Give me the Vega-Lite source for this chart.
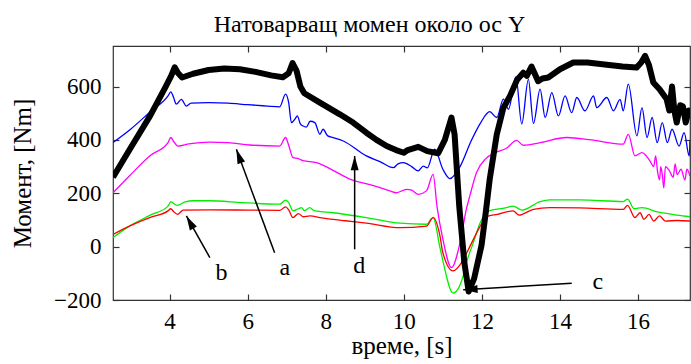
{
  "$schema": "https://vega.github.io/schema/vega-lite/v6.json",
  "autosize": {"type": "none"},
  "width": 577,
  "height": 254,
  "padding": {"left": 113, "top": 46, "right": 1, "bottom": 64},
  "background": "white",
  "title": {"text": "Натоварващ момен около ос Y", "font": "Liberation Serif", "fontSize": 24, "fontWeight": "normal", "color": "black", "anchor": "middle", "offset": 8, "dx": -32},
  "config": {
    "view": {"stroke": "#333", "strokeWidth": 1.2},
    "axis": {"labelFont": "Liberation Serif", "labelFontSize": 23, "labelColor": "black", "titleFont": "Liberation Serif", "titleFontSize": 25, "titleFontWeight": "normal", "titleColor": "black", "domain": false, "grid": false, "tickColor": "#333", "tickSize": -6, "tickWidth": 1.2},
    "text": {"font": "Liberation Serif"}
  },
  "datasets": {
    "curves": [
      {"series":"black","t":2.55,"m":260},{"series":"black","t":3.0,"m":370},{"series":"black","t":3.5,"m":490},{"series":"black","t":3.9,"m":600},{"series":"black","t":4.04,"m":640},{"series":"black","t":4.13,"m":672},{"series":"black","t":4.22,"m":650},{"series":"black","t":4.32,"m":634},{"series":"black","t":4.6,"m":648},{"series":"black","t":5.0,"m":662},{"series":"black","t":5.4,"m":668},{"series":"black","t":5.8,"m":665},{"series":"black","t":6.2,"m":655},{"series":"black","t":6.6,"m":642},{"series":"black","t":6.9,"m":635},{"series":"black","t":7.05,"m":650},{"series":"black","t":7.15,"m":688},{"series":"black","t":7.25,"m":660},{"series":"black","t":7.35,"m":600},{"series":"black","t":7.45,"m":575},{"series":"black","t":7.85,"m":540},{"series":"black","t":8.36,"m":496},{"series":"black","t":8.7,"m":465},{"series":"black","t":9.04,"m":427},{"series":"black","t":9.3,"m":400},{"series":"black","t":9.56,"m":377},{"series":"black","t":9.8,"m":362},{"series":"black","t":10.0,"m":352},{"series":"black","t":10.1,"m":362},{"series":"black","t":10.37,"m":374},{"series":"black","t":10.6,"m":358},{"series":"black","t":10.88,"m":350},{"series":"black","t":11.05,"m":400},{"series":"black","t":11.22,"m":484},{"series":"black","t":11.3,"m":420},{"series":"black","t":11.42,"m":150},{"series":"black","t":11.55,"m":-60},{"series":"black","t":11.66,"m":-168},{"series":"black","t":11.8,"m":-120},{"series":"black","t":11.99,"m":5},{"series":"black","t":12.1,"m":130},{"series":"black","t":12.2,"m":253},{"series":"black","t":12.38,"m":420},{"series":"black","t":12.55,"m":520},{"series":"black","t":12.72,"m":565},{"series":"black","t":12.9,"m":625},{"series":"black","t":13.06,"m":652},{"series":"black","t":13.15,"m":640},{"series":"black","t":13.27,"m":675},{"series":"black","t":13.44,"m":620},{"series":"black","t":13.55,"m":630},{"series":"black","t":13.7,"m":634},{"series":"black","t":14.0,"m":665},{"series":"black","t":14.34,"m":690},{"series":"black","t":14.7,"m":690},{"series":"black","t":15.2,"m":682},{"series":"black","t":15.6,"m":675},{"series":"black","t":15.96,"m":671},{"series":"black","t":16.08,"m":690},{"series":"black","t":16.18,"m":715},{"series":"black","t":16.28,"m":680},{"series":"black","t":16.39,"m":615},{"series":"black","t":16.55,"m":590},{"series":"black","t":16.73,"m":553},{"series":"black","t":16.8,"m":510},{"series":"black","t":16.87,"m":600},{"series":"black","t":16.93,"m":510},{"series":"black","t":16.99,"m":465},{"series":"black","t":17.08,"m":530},{"series":"black","t":17.15,"m":525},{"series":"black","t":17.22,"m":465},{"series":"black","t":17.3,"m":510},{"series":"black","t":17.33,"m":480},

      {"series":"magenta","t":2.55,"m":202},{"series":"magenta","t":2.97,"m":265},{"series":"magenta","t":3.49,"m":340},{"series":"magenta","t":3.96,"m":390},{"series":"magenta","t":4.03,"m":409},{"series":"magenta","t":4.1,"m":395},{"series":"magenta","t":4.21,"m":377},{"series":"magenta","t":4.5,"m":385},{"series":"magenta","t":5.03,"m":392},{"series":"magenta","t":5.5,"m":390},{"series":"magenta","t":6.05,"m":381},{"series":"magenta","t":6.82,"m":377},{"series":"magenta","t":6.97,"m":409},{"series":"magenta","t":7.05,"m":380},{"series":"magenta","t":7.16,"m":334},{"series":"magenta","t":7.3,"m":330},{"series":"magenta","t":7.42,"m":322},{"series":"magenta","t":7.76,"m":315},{"series":"magenta","t":8.2,"m":285},{"series":"magenta","t":8.62,"m":253},{"series":"magenta","t":9.2,"m":230},{"series":"magenta","t":9.64,"m":209},{"series":"magenta","t":9.81,"m":202},{"series":"magenta","t":10.07,"m":215},{"series":"magenta","t":10.2,"m":212},{"series":"magenta","t":10.37,"m":196},{"series":"magenta","t":10.58,"m":209},{"series":"magenta","t":10.75,"m":271},{"series":"magenta","t":10.85,"m":150},{"series":"magenta","t":11.0,"m":28},{"series":"magenta","t":11.22,"m":-79},{"series":"magenta","t":11.44,"m":15},{"series":"magenta","t":11.6,"m":140},{"series":"magenta","t":11.69,"m":190},{"series":"magenta","t":11.86,"m":277},{"series":"magenta","t":12.1,"m":330},{"series":"magenta","t":12.3,"m":350},{"series":"magenta","t":12.63,"m":369},{"series":"magenta","t":12.89,"m":398},{"series":"magenta","t":13.06,"m":380},{"series":"magenta","t":13.5,"m":390},{"series":"magenta","t":14.17,"m":409},{"series":"magenta","t":14.8,"m":400},{"series":"magenta","t":15.62,"m":384},{"series":"magenta","t":15.75,"m":421},{"series":"magenta","t":15.92,"m":340},{"series":"magenta","t":16.1,"m":352},{"series":"magenta","t":16.3,"m":322},{"series":"magenta","t":16.4,"m":300},{"series":"magenta","t":16.45,"m":340},{"series":"magenta","t":16.5,"m":280},{"series":"magenta","t":16.55,"m":250},{"series":"magenta","t":16.58,"m":300},{"series":"magenta","t":16.62,"m":270},{"series":"magenta","t":16.66,"m":220},{"series":"magenta","t":16.7,"m":300},{"series":"magenta","t":16.8,"m":285},{"series":"magenta","t":16.9,"m":260},{"series":"magenta","t":16.95,"m":310},{"series":"magenta","t":17.0,"m":270},{"series":"magenta","t":17.1,"m":290},{"series":"magenta","t":17.2,"m":250},{"series":"magenta","t":17.25,"m":290},{"series":"magenta","t":17.33,"m":265},

      {"series":"blue","t":2.55,"m":390},{"series":"blue","t":3.0,"m":440},{"series":"blue","t":3.5,"m":505},{"series":"blue","t":3.96,"m":565},{"series":"blue","t":4.03,"m":580},{"series":"blue","t":4.1,"m":560},{"series":"blue","t":4.17,"m":534},{"series":"blue","t":4.3,"m":552},{"series":"blue","t":4.43,"m":527},{"series":"blue","t":4.55,"m":538},{"series":"blue","t":5.0,"m":540},{"series":"blue","t":5.5,"m":538},{"series":"blue","t":6.0,"m":532},{"series":"blue","t":6.5,"m":527},{"series":"blue","t":6.82,"m":524},{"series":"blue","t":6.97,"m":572},{"series":"blue","t":7.05,"m":540},{"series":"blue","t":7.12,"m":465},{"series":"blue","t":7.22,"m":480},{"series":"blue","t":7.27,"m":490},{"series":"blue","t":7.35,"m":460},{"series":"blue","t":7.42,"m":452},{"series":"blue","t":7.5,"m":448},{"series":"blue","t":7.6,"m":470},{"series":"blue","t":7.72,"m":465},{"series":"blue","t":7.85,"m":421},{"series":"blue","t":7.93,"m":440},{"series":"blue","t":8.05,"m":415},{"series":"blue","t":8.19,"m":409},{"series":"blue","t":8.45,"m":396},{"series":"blue","t":9.04,"m":340},{"series":"blue","t":9.4,"m":318},{"series":"blue","t":9.73,"m":296},{"series":"blue","t":9.85,"m":310},{"series":"blue","t":9.99,"m":315},{"series":"blue","t":10.2,"m":300},{"series":"blue","t":10.37,"m":284},{"series":"blue","t":10.5,"m":302},{"series":"blue","t":10.6,"m":295},{"series":"blue","t":10.79,"m":365},{"series":"blue","t":11.0,"m":290},{"series":"blue","t":11.18,"m":255},{"series":"blue","t":11.44,"m":300},{"series":"blue","t":11.72,"m":395},{"series":"blue","t":11.97,"m":465},{"series":"blue","t":12.2,"m":506},{"series":"blue","t":12.38,"m":484},{"series":"blue","t":12.55,"m":553},{"series":"blue","t":12.68,"m":515},{"series":"blue","t":12.87,"m":636},{"series":"blue","t":13.02,"m":460},{"series":"blue","t":13.19,"m":627},{"series":"blue","t":13.32,"m":462},{"series":"blue","t":13.49,"m":590},{"series":"blue","t":13.62,"m":484},{"series":"blue","t":13.79,"m":577},{"series":"blue","t":13.96,"m":490},{"series":"blue","t":14.13,"m":565},{"series":"blue","t":14.3,"m":502},{"series":"blue","t":14.43,"m":559},{"series":"blue","t":14.64,"m":509},{"series":"blue","t":14.86,"m":565},{"series":"blue","t":14.94,"m":521},{"series":"blue","t":15.2,"m":559},{"series":"blue","t":15.37,"m":509},{"series":"blue","t":15.54,"m":552},{"series":"blue","t":15.62,"m":509},{"series":"blue","t":15.75,"m":609},{"series":"blue","t":15.97,"m":415},{"series":"blue","t":16.1,"m":521},{"series":"blue","t":16.23,"m":409},{"series":"blue","t":16.36,"m":484},{"series":"blue","t":16.49,"m":390},{"series":"blue","t":16.62,"m":465},{"series":"blue","t":16.75,"m":390},{"series":"blue","t":16.87,"m":440},{"series":"blue","t":17.05,"m":377},{"series":"blue","t":17.18,"m":427},{"series":"blue","t":17.31,"m":340},{"series":"blue","t":17.33,"m":400},

      {"series":"green","t":2.55,"m":34},{"series":"green","t":2.97,"m":77},{"series":"green","t":3.49,"m":117},{"series":"green","t":3.96,"m":152},{"series":"green","t":4.03,"m":169},{"series":"green","t":4.1,"m":162},{"series":"green","t":4.2,"m":155},{"series":"green","t":4.4,"m":168},{"series":"green","t":4.6,"m":172},{"series":"green","t":5.0,"m":172},{"series":"green","t":5.88,"m":165},{"series":"green","t":6.82,"m":159},{"series":"green","t":6.97,"m":174},{"series":"green","t":7.05,"m":165},{"series":"green","t":7.16,"m":134},{"series":"green","t":7.3,"m":142},{"series":"green","t":7.38,"m":146},{"series":"green","t":7.45,"m":135},{"series":"green","t":7.59,"m":146},{"series":"green","t":7.7,"m":135},{"series":"green","t":8.19,"m":127},{"series":"green","t":9.04,"m":109},{"series":"green","t":9.9,"m":88},{"series":"green","t":10.58,"m":84},{"series":"green","t":10.75,"m":110},{"series":"green","t":10.92,"m":0},{"series":"green","t":11.01,"m":-60},{"series":"green","t":11.26,"m":-174},{"series":"green","t":11.52,"m":-110},{"series":"green","t":11.6,"m":-62},{"series":"green","t":11.78,"m":15},{"series":"green","t":11.95,"m":88},{"series":"green","t":12.2,"m":135},{"series":"green","t":12.6,"m":145},{"series":"green","t":12.8,"m":152},{"series":"green","t":13.03,"m":137},{"series":"green","t":13.49,"m":169},{"series":"green","t":13.74,"m":175},{"series":"green","t":14.5,"m":175},{"series":"green","t":15.62,"m":169},{"series":"green","t":15.73,"m":178},{"series":"green","t":15.9,"m":142},{"series":"green","t":16.1,"m":146},{"series":"green","t":16.5,"m":130},{"series":"green","t":17.0,"m":118},{"series":"green","t":17.33,"m":112},

      {"series":"red","t":2.55,"m":46},{"series":"red","t":2.97,"m":77},{"series":"red","t":3.49,"m":109},{"series":"red","t":3.96,"m":134},{"series":"red","t":4.03,"m":142},{"series":"red","t":4.1,"m":132},{"series":"red","t":4.2,"m":121},{"series":"red","t":4.35,"m":137},{"series":"red","t":5.0,"m":138},{"series":"red","t":6.0,"m":137},{"series":"red","t":6.82,"m":136},{"series":"red","t":6.97,"m":149},{"series":"red","t":7.05,"m":138},{"series":"red","t":7.16,"m":109},{"series":"red","t":7.3,"m":124},{"series":"red","t":7.42,"m":112},{"series":"red","t":7.6,"m":115},{"series":"red","t":7.85,"m":109},{"series":"red","t":8.5,"m":97},{"series":"red","t":9.04,"m":88},{"series":"red","t":9.9,"m":71},{"series":"red","t":10.58,"m":77},{"series":"red","t":10.75,"m":109},{"series":"red","t":10.92,"m":44},{"series":"red","t":11.0,"m":-23},{"series":"red","t":11.26,"m":-91},{"series":"red","t":11.5,"m":-55},{"series":"red","t":11.69,"m":0},{"series":"red","t":11.95,"m":75},{"series":"red","t":12.12,"m":112},{"series":"red","t":12.4,"m":121},{"series":"red","t":12.8,"m":134},{"series":"red","t":12.95,"m":118},{"series":"red","t":13.32,"m":140},{"series":"red","t":13.74,"m":146},{"series":"red","t":14.5,"m":145},{"series":"red","t":15.62,"m":140},{"series":"red","t":15.73,"m":155},{"series":"red","t":15.92,"m":109},{"series":"red","t":16.05,"m":127},{"series":"red","t":16.15,"m":102},{"series":"red","t":16.28,"m":121},{"series":"red","t":16.4,"m":96},{"series":"red","t":16.55,"m":115},{"series":"red","t":16.7,"m":96},{"series":"red","t":17.0,"m":98},{"series":"red","t":17.33,"m":96}
    ],
    "arrows": [
      {"label":"a","t0":6.69,"m0":-23,"t1":5.71,"m1":365,"lt":6.95,"lm":-79},
      {"label":"b","t0":5.03,"m0":-41,"t1":4.43,"m1":115,"lt":5.33,"lm":-98},
      {"label":"c","t0":14.3,"m0":-137,"t1":11.52,"m1":-162,"lt":14.97,"lm":-131},
      {"label":"d","t0":8.74,"m0":-10,"t1":8.74,"m1":340,"lt":8.86,"lm":-72}
    ]
  },
  "resolve": {"axis": {"x": "independent", "y": "independent"}},
  "layer": [
    {
      "data": {"name": "curves"},
      "transform": [{"filter": "datum.series !== 'black'"}],
      "mark": {"type": "line", "strokeWidth": 1.3, "clip": true, "interpolate": "monotone"},
      "encoding": {
        "x": {"field": "t", "type": "quantitative", "scale": {"domain": [2.55, 17.33], "nice": false, "zero": false}, "axis": {"orient": "bottom", "values": [4,6,8,10,12,14,16], "title": "време, [s]", "labelFont": "Liberation Serif", "labelFontSize": 23, "labelPadding": 16, "titlePadding": 0, "titleFont": "Liberation Serif"}},
        "y": {"field": "m", "type": "quantitative", "scale": {"domain": [-200, 752], "nice": false, "zero": false}, "axis": {"orient": "left", "values": [-200,0,200,400,600], "title": "Момент, [Nm]", "labelFont": "Liberation Serif", "labelFontSize": 23, "labelPadding": 18, "titlePadding": 18, "titleFont": "Liberation Serif"}},
        "color": {"field": "series", "type": "nominal", "scale": {"domain": ["magenta","blue","green","red"], "range": ["#ff00ff","#0000ff","#00ee00","#ff0000"]}, "legend": null},
        "order": {"field": "t", "type": "quantitative"}
      }
    },
    {
      "data": {"name": "curves"},
      "transform": [{"filter": "datum.series === 'black'"}],
      "mark": {"type": "line", "strokeWidth": 6, "color": "black", "clip": true, "strokeJoin": "round"},
      "encoding": {
        "x": {"field": "t", "type": "quantitative", "scale": {"domain": [2.55, 17.33], "nice": false, "zero": false}, "axis": null},
        "y": {"field": "m", "type": "quantitative", "scale": {"domain": [-200, 752], "nice": false, "zero": false}, "axis": null},
        "order": {"field": "t", "type": "quantitative"}
      }
    },
    {
      "data": {"name": "arrows"},
      "mark": {"type": "rule", "color": "black", "strokeWidth": 1.5},
      "encoding": {
        "x": {"field": "t0", "type": "quantitative", "scale": {"domain": [2.55, 17.33], "nice": false, "zero": false}, "axis": {"orient": "top", "values": [4,6,8,10,12,14,16], "labels": false, "title": null}},
        "y": {"field": "m0", "type": "quantitative", "scale": {"domain": [-200, 752], "nice": false, "zero": false}, "axis": {"orient": "right", "values": [-200,0,200,400,600], "labels": false, "title": null}},
        "x2": {"field": "t1"},
        "y2": {"field": "m1"}
      }
    },
    {
      "data": {"name": "arrows"},
      "transform": [{"filter": "datum.label === 'a'"}],
      "mark": {"type": "point", "shape": "M0,0L-0.5,1.8L0.5,1.8Z", "filled": true, "color": "black", "opacity": 1, "size": 256, "angle": 340},
      "encoding": {
        "x": {"field": "t1", "type": "quantitative", "scale": {"domain": [2.55, 17.33], "nice": false, "zero": false}, "axis": null},
        "y": {"field": "m1", "type": "quantitative", "scale": {"domain": [-200, 752], "nice": false, "zero": false}, "axis": null}
      }
    },
    {
      "data": {"name": "arrows"},
      "transform": [{"filter": "datum.label === 'b'"}],
      "mark": {"type": "point", "shape": "M0,0L-0.5,1.8L0.5,1.8Z", "filled": true, "color": "black", "opacity": 1, "size": 256, "angle": 331},
      "encoding": {
        "x": {"field": "t1", "type": "quantitative", "scale": {"domain": [2.55, 17.33], "nice": false, "zero": false}, "axis": null},
        "y": {"field": "m1", "type": "quantitative", "scale": {"domain": [-200, 752], "nice": false, "zero": false}, "axis": null}
      }
    },
    {
      "data": {"name": "arrows"},
      "transform": [{"filter": "datum.label === 'c'"}],
      "mark": {"type": "point", "shape": "M0,0L-0.5,1.8L0.5,1.8Z", "filled": true, "color": "black", "opacity": 1, "size": 256, "angle": 266.5},
      "encoding": {
        "x": {"field": "t1", "type": "quantitative", "scale": {"domain": [2.55, 17.33], "nice": false, "zero": false}, "axis": null},
        "y": {"field": "m1", "type": "quantitative", "scale": {"domain": [-200, 752], "nice": false, "zero": false}, "axis": null}
      }
    },
    {
      "data": {"name": "arrows"},
      "transform": [{"filter": "datum.label === 'd'"}],
      "mark": {"type": "point", "shape": "M0,0L-0.5,1.8L0.5,1.8Z", "filled": true, "color": "black", "opacity": 1, "size": 256, "angle": 0},
      "encoding": {
        "x": {"field": "t1", "type": "quantitative", "scale": {"domain": [2.55, 17.33], "nice": false, "zero": false}, "axis": null},
        "y": {"field": "m1", "type": "quantitative", "scale": {"domain": [-200, 752], "nice": false, "zero": false}, "axis": null}
      }
    },
    {
      "data": {"name": "arrows"},
      "mark": {"type": "text", "font": "Liberation Serif", "fontSize": 24, "color": "black", "align": "center", "baseline": "middle"},
      "encoding": {
        "x": {"field": "lt", "type": "quantitative", "scale": {"domain": [2.55, 17.33], "nice": false, "zero": false}, "axis": null},
        "y": {"field": "lm", "type": "quantitative", "scale": {"domain": [-200, 752], "nice": false, "zero": false}, "axis": null},
        "text": {"field": "label"}
      }
    }
  ]
}
